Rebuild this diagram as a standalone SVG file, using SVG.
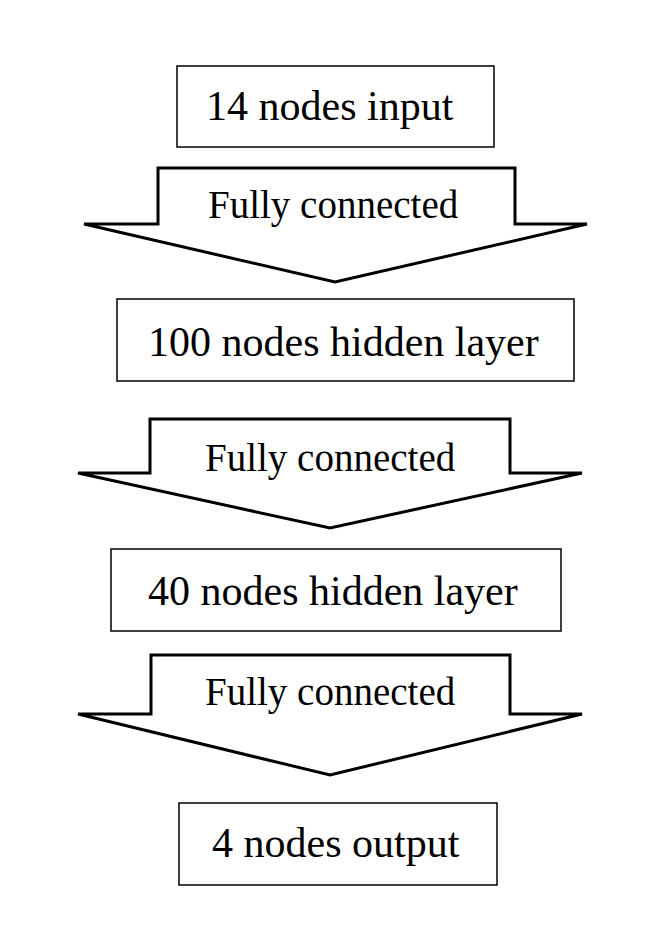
<svg xmlns="http://www.w3.org/2000/svg" width="652" height="926" viewBox="0 0 652 926">
<style>
.box{fill:#fff;stroke:#000;stroke-width:1.5}
.arr{fill:#fff;stroke:#000;stroke-width:3;stroke-linejoin:miter}
.bt{font-family:"Liberation Serif","Times New Roman",serif;font-size:42px;fill:#000}
.at{font-family:"Liberation Serif","Times New Roman",serif;font-size:39px;fill:#000}
</style>
<rect width="652" height="926" fill="#fff"/>
<g id="connectors">
<g id="arrow1"><path class="arr" d="M158,168 H515 V224 H587 L335,282 L84,224 H158 Z"/><text class="at" x="208" y="218">Fully connected</text></g>
<g id="arrow2"><path class="arr" d="M150,419 H510 V473 H582 L330,528 L78,473 H150 Z"/><text class="at" x="205" y="471">Fully connected</text></g>
<g id="arrow3"><path class="arr" d="M151,655 H510 V714 H582 L330,775 L78,714 H151 Z"/><text class="at" x="205" y="705">Fully connected</text></g>
</g>
<g id="node1"><rect class="box" x="177" y="66" width="317" height="81"/><text class="bt" x="206" y="120">14 nodes input</text></g>
<g id="node2"><rect class="box" x="117" y="299" width="457" height="82"/><text class="bt" x="148" y="356">100 nodes hidden layer</text></g>
<g id="node3"><rect class="box" x="111" y="549" width="450" height="82"/><text class="bt" x="148" y="605">40 nodes hidden layer</text></g>
<g id="node4"><rect class="box" x="179" y="803" width="318" height="82"/><text class="bt" x="212" y="857">4 nodes output</text></g>
</svg>
